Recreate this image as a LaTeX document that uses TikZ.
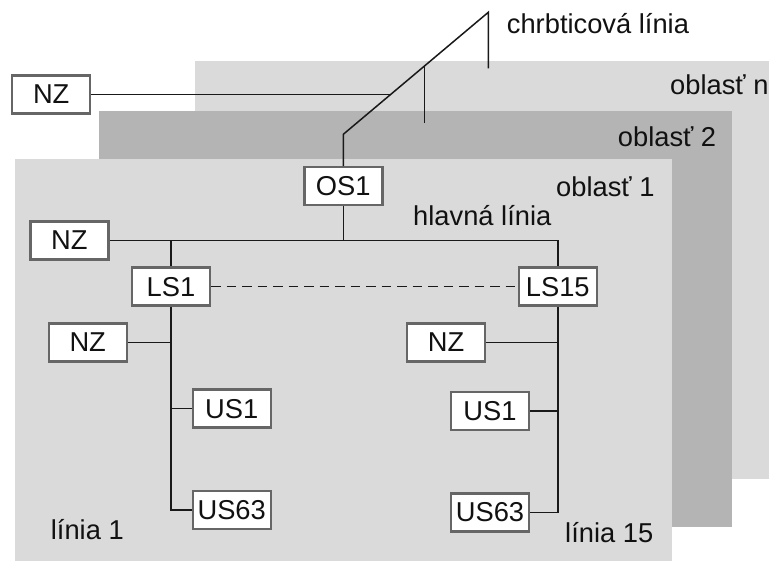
\documentclass[tikz,border=0pt]{standalone}
\usepackage{fontspec}
\setmainfont{Liberation Sans}
\definecolor{areal}{HTML}{DADADA}
\definecolor{aread}{HTML}{B4B4B4}
\definecolor{boxgray}{HTML}{666666}
\definecolor{txt}{HTML}{111111}
\begin{document}
\begin{tikzpicture}[x=1pt,y=-1pt,
  box/.style={draw=boxgray, line width=2.4pt, fill=white, minimum width=78pt, minimum height=38pt, inner sep=0pt, font=\fontsize{27.3}{30}\selectfont, text=txt},
  lbl/.style={anchor=base west, inner sep=0pt, font=\fontsize{27.3}{30}\selectfont, text=txt},
  conn/.style={line width=1.5pt, black!90},
  dashconn/.style={conn, dash pattern=on 9.5pt off 6pt}]
\useasboundingbox (0,0) rectangle (769,561);
% areas
\fill[areal] (195,61) rectangle (769,479);
\fill[aread] (99,111) rectangle (732,527);
\fill[areal] (15,159) rectangle (672,561);
% labels
\node[lbl] (tcb) at (506.7,33.3) {chrbticová línia};
\node[lbl] (tan) at (670,95) {oblasť n};
\node[lbl] (ta2) at (617.7,146.7) {oblasť 2};
\node[lbl] (ta1) at (556,196.7) {oblasť 1};
\node[lbl] (thl) at (413,226) {hlavná línia};
\node[lbl] (tl1) at (50.7,539.3) {línia 1};
\node[lbl] (tl15) at (565,542) {línia 15};
% boxes
\node[box] (nz0) at (51.2,94.4) {NZ};
\node[box] (os1) at (343.3,186.3) {OS1};
\node[box] (nz1) at (69.3,240.5) {NZ};
\node[box] (ls1) at (171,286.7) {LS1};
\node[box] (ls15) at (557.8,286.7) {LS15};
\node[box] (nz2) at (87.7,342.5) {NZ};
\node[box] (nz3) at (446,342.5) {NZ};
\node[box] (us1a) at (231.7,408.7) {US1};
\node[box] (us63a) at (231.7,510) {US63};
\node[box] (us1b) at (490,410.8) {US1};
\node[box] (us63b) at (490,512.5) {US63};
% backbone
\coordinate (bb0) at (343.3,134.3);
\coordinate (bbtop) at (488.3,12.3);
\coordinate (bbend) at (488.3,68.3);
\coordinate (nzj) at (390,94.4);
\coordinate (a2top) at (424.3,65.8);
\coordinate (a2end) at (424.3,122.7);
\draw[conn] (os1.north) -- (bb0) -- (bbtop) -- (bbend);
\draw[conn] (nz0.east) -- (nzj);
\draw[conn] (a2top) -- (a2end);
% main line
\draw[conn] (nz1.east) -- (ls15.north |- nz1.east) -- (ls15.north);
\draw[conn] (os1.south) -- (os1.south |- nz1.east);
\draw[conn] (ls1.north |- nz1.east) -- (ls1.north);
\draw[dashconn] (ls1.east) -- (ls15.west);
% line 1
\draw[conn] (ls1.south) -- (ls1.south |- us63a.west) -- (us63a.west);
\draw[conn] (nz2.east) -- (ls1.south |- nz2.east);
\draw[conn] (us1a.west) -- (ls1.south |- us1a.west);
% line 15
\draw[conn] (ls15.south) -- (ls15.south |- us63b.east) -- (us63b.east);
\draw[conn] (nz3.east) -- (ls15.south |- nz3.east);
\draw[conn] (us1b.east) -- (ls15.south |- us1b.east);
\end{tikzpicture}
\end{document}
